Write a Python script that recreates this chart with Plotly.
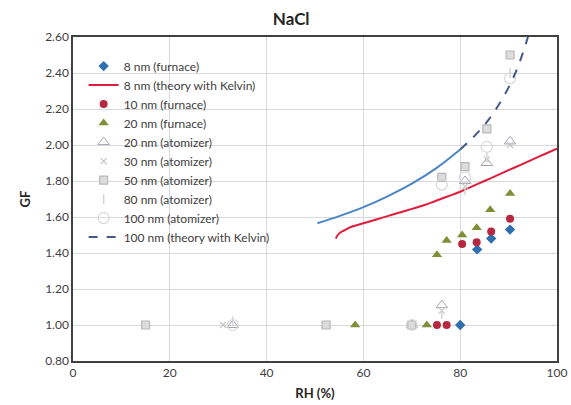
import plotly.graph_objects as go

# ---- data ----
rh_8f = [80, 83.5, 86.4, 90.3]
gf_8f = [1.00, 1.42, 1.48, 1.53]

rh_8t = [54.3, 54.7, 55.3, 56, 57, 58, 60, 62.5, 65, 67.5, 70, 72.5, 75, 77.5, 80, 82.5, 85, 87.5, 90, 92.5, 95, 97.5, 100]
gf_8t = [1.48, 1.50, 1.515, 1.525, 1.54, 1.55, 1.565, 1.585, 1.605, 1.625, 1.645, 1.665, 1.69, 1.715, 1.74, 1.77, 1.80, 1.83, 1.86, 1.89, 1.92, 1.95, 1.98]

rh_10f = [75.2, 77.2, 80.4, 83.4, 86.4, 90.3]
gf_10f = [1.00, 1.00, 1.45, 1.46, 1.52, 1.59]

rh_20f = [58.3, 73.1, 75.2, 77.2, 80.4, 83.4, 86.2, 90.3]
gf_20f = [1.00, 1.00, 1.39, 1.47, 1.50, 1.54, 1.64, 1.73]

rh_20a = [33, 70, 76.2, 81, 85.5, 90.3]
gf_20a = [1.00, 1.00, 1.11, 1.80, 1.90, 2.02]

rh_30a = [31, 52, 76.2, 81, 85.5, 90.3]
gf_30a = [1.00, 1.00, 1.08, 1.77, 1.92, 2.00]

rh_50a = [15, 52.3, 70, 76.2, 81, 85.5, 90.3]
gf_50a = [1.00, 1.00, 1.00, 1.82, 1.88, 2.09, 2.50]

rh_80a = [33, 76.2, 81, 85.5, 90.3]
gf_80a = [1.02, 1.06, 1.75, 1.93, 2.40]

rh_100a = [33, 70, 76.2, 81, 85.5, 90.3]
gf_100a = [1.00, 1.00, 1.78, 1.82, 1.99, 2.37]

rh_100t_solid = [50.5, 55, 60, 65, 70, 75, 80]
gf_100t_solid = [1.565, 1.605, 1.655, 1.715, 1.785, 1.87, 1.975]
rh_100t_dash = [80, 82, 84, 86, 88, 90, 92, 94]
gf_100t_dash = [1.975, 2.025, 2.08, 2.145, 2.225, 2.32, 2.44, 2.60]

FONT = "Lato"
fig = go.Figure()

fig.add_trace(go.Scatter(x=rh_8f, y=gf_8f, mode="markers", name="8 nm (furnace)",
                         marker=dict(symbol="diamond", size=8, color="#2f6fb0")))
fig.add_trace(go.Scatter(x=rh_8t, y=gf_8t, mode="lines", name="8 nm (theory with Kelvin)",
                         line=dict(color="#e01b3c", width=2, shape="spline")))
fig.add_trace(go.Scatter(x=rh_10f, y=gf_10f, mode="markers", name="10 nm (furnace)",
                         marker=dict(symbol="circle", size=8, color="#b5283f")))
fig.add_trace(go.Scatter(x=rh_20f, y=gf_20f, mode="markers", name="20 nm (furnace)",
                         marker=dict(symbol="triangle-up", size=9, color="#7f8f35")))
fig.add_trace(go.Scatter(x=rh_20a, y=gf_20a, mode="markers", name="20 nm (atomizer)",
                         marker=dict(symbol="triangle-up-open", size=10, color="#a4a4b4",
                                     line=dict(width=1))))
fig.add_trace(go.Scatter(x=rh_30a, y=gf_30a, mode="markers", name="30 nm (atomizer)",
                         marker=dict(symbol="x-thin-open", size=6, color="#c4c4c4",
                                     line=dict(width=1.2, color="#c4c4c4"))))
fig.add_trace(go.Scatter(x=rh_50a, y=gf_50a, mode="markers", name="50 nm (atomizer)",
                         marker=dict(symbol="square", size=8, color="#dcdcdc",
                                     line=dict(width=1.2, color="#b8b8b8"))))
fig.add_trace(go.Scatter(x=rh_80a, y=gf_80a, mode="markers", name="80 nm (atomizer)",
                         marker=dict(symbol="line-ns-open", size=7, color="#d4d4d4",
                                     line=dict(width=1.5, color="#d4d4d4"))))
fig.add_trace(go.Scatter(x=rh_100a, y=gf_100a, mode="markers", name="100 nm (atomizer)",
                         marker=dict(symbol="circle-open", size=11, color="#d8d8d8",
                                     line=dict(width=1.2))))
fig.add_trace(go.Scatter(x=rh_100t_solid, y=gf_100t_solid, mode="lines", showlegend=False,
                         name="100 nm (theory with Kelvin)",
                         line=dict(color="#4a86c5", width=2, shape="spline")))
fig.add_trace(go.Scatter(x=rh_100t_dash, y=gf_100t_dash, mode="lines", name="100 nm (theory with Kelvin)",
                         line=dict(color="#44588e", width=2, dash="dash", shape="spline")))

fig.update_layout(
    width=571, height=405,
    margin=dict(l=73, r=14, t=37, b=44, autoexpand=False),
    paper_bgcolor="white", plot_bgcolor="white",
    font=dict(family=FONT, size=12, color="#404040"),
    title=dict(text="<b>NaCl</b>", x=0.51, xanchor="center", y=0.952, yanchor="middle",
               font=dict(family=FONT, size=17, color="#262626")),
    legend=dict(x=0.022, y=0.955, xanchor="left", yanchor="top", bgcolor="rgba(0,0,0,0)",
                font=dict(family=FONT, size=12, color="#404040"), tracegroupgap=0),
    showlegend=True,
)
fig.update_xaxes(range=[0, 100], tickvals=[0, 20, 40, 60, 80, 100], automargin=False,
                 showgrid=True, gridcolor="#d9d9d9", gridwidth=1,
                 showline=True, linecolor="#404040", linewidth=1.5, mirror=True,
                 zeroline=False, ticks="",
                 title=dict(text="<b>RH (%)</b>", font=dict(family=FONT, size=13, color="#262626"), standoff=10),
                 tickfont=dict(family=FONT, size=12, color="#404040"))
fig.update_yaxes(range=[0.8, 2.6], tickvals=[0.8, 1.0, 1.2, 1.4, 1.6, 1.8, 2.0, 2.2, 2.4, 2.6],
                 tickformat=".2f", automargin=False,
                 showgrid=True, gridcolor="#d9d9d9", gridwidth=1,
                 showline=True, linecolor="#404040", linewidth=1.5, mirror=True,
                 zeroline=False, ticks="",
                 title=dict(text="<b>GF</b>", font=dict(family=FONT, size=13, color="#262626"), standoff=12),
                 tickfont=dict(family=FONT, size=12, color="#404040"))

fig.write_html("out.html")
